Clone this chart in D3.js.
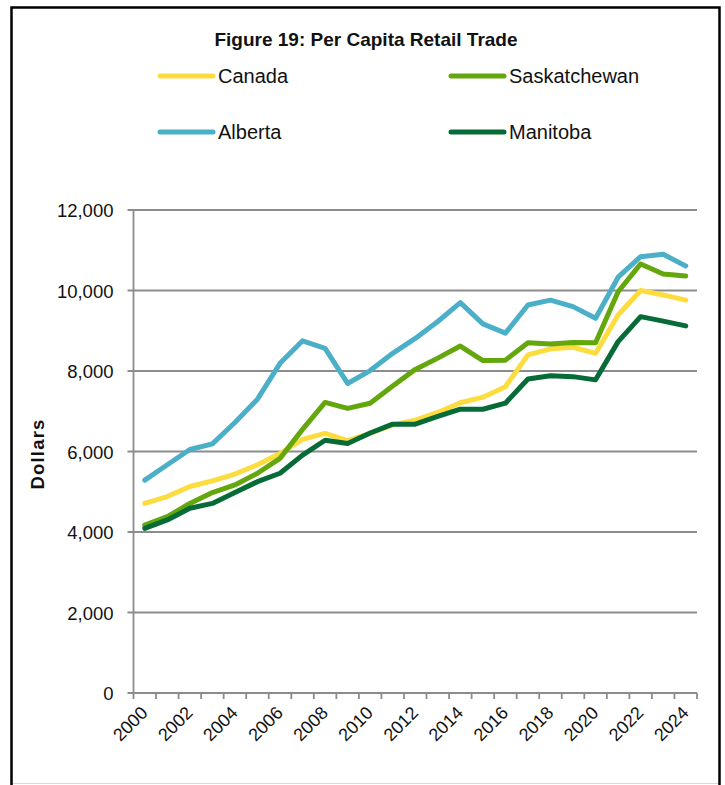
<!DOCTYPE html>
<html>
<head>
<meta charset="utf-8">
<script src="https://cdn.jsdelivr.net/npm/d3@7"></script>
<style>
  html, body { margin: 0; padding: 0; background: #fff; }
  svg { display: block; }
</style>
</head>
<body>
<svg id="chart" width="725" height="785"></svg>
<script>
const years = d3.range(2000, 2025);
const tickLabelYears = years.filter(y => y % 2 === 0);
const yTickValues = [0, 2000, 4000, 6000, 8000, 10000, 12000];

const canada = [4710, 4880, 5130, 5270, 5440, 5670, 5950, 6300, 6450, 6270, 6450, 6660, 6780, 6970, 7210, 7350, 7610, 8400, 8550, 8590, 8440, 9390, 10000, 9890, 9760];
const saskatchewan = [4170, 4380, 4710, 4980, 5170, 5460, 5830, 6550, 7220, 7070, 7200, 7630, 8040, 8320, 8620, 8260, 8270, 8700, 8670, 8710, 8700, 9970, 10660, 10410, 10360];
const alberta = [5290, 5670, 6050, 6190, 6720, 7300, 8190, 8750, 8560, 7690, 8010, 8440, 8810, 9230, 9700, 9170, 8940, 9640, 9760, 9600, 9310, 10330, 10840, 10900, 10610];
const manitoba = [4090, 4300, 4590, 4710, 4980, 5250, 5460, 5910, 6280, 6200, 6460, 6680, 6680, 6870, 7050, 7050, 7200, 7800, 7880, 7860, 7780, 8730, 9350, 9240, 9120];

const seriesNames = ["Canada", "Saskatchewan", "Alberta", "Manitoba"];
const seriesColors = ["#FDDC3F", "#63A70C", "#4BAFC8", "#076B38"];
const seriesValues = [canada, saskatchewan, alberta, manitoba];
// drawing order (back to front)
const drawOrder = [2, 0, 1, 3];

const svg = d3.select("#chart");

// Frame
svg.append("rect").attr("x", 0).attr("y", 0).attr("width", 725).attr("height", 785).attr("fill", "#fff");
svg.append("line").attr("x1", 11).attr("x2", 720).attr("y1", 783.5).attr("y2", 783.5)
  .attr("stroke", "#d9d9d9").attr("stroke-width", 1);
svg.append("path").attr("d", "M11.5,790 V7.5 H719.5 V790")
  .attr("fill", "none").attr("stroke", "#000").attr("stroke-width", 2.5);

const plotLeft = 133.5, plotRight = 697, plotTop = 210, plotBottom = 693;
const x = d3.scaleBand().domain(years).range([plotLeft, plotRight]).padding(0);
const y = d3.scaleLinear().domain([0, 12000]).range([plotBottom, plotTop]);

// Title
svg.append("text").attr("x", 366).attr("y", 46).attr("text-anchor", "middle")
  .attr("font-family", "Liberation Sans, Arial, sans-serif").attr("font-weight", "bold")
  .attr("font-size", 19).attr("fill", "#111").text("Figure 19: Per Capita Retail Trade");

// Legend
const legendPos = [[160, 76], [451, 76], [160, 132], [451, 132]];
seriesNames.forEach((name, i) => {
  const [lx, ly] = legendPos[i];
  svg.append("line").attr("x1", lx).attr("x2", lx + 53).attr("y1", ly).attr("y2", ly)
    .attr("stroke", seriesColors[i]).attr("stroke-width", 5).attr("stroke-linecap", "round");
  svg.append("text").attr("x", lx + 58).attr("y", ly + 7)
    .attr("font-family", "Liberation Sans, Arial, sans-serif").attr("font-size", 20)
    .attr("fill", "#111").text(name);
});

// Y axis labels
const yAxis = d3.axisLeft(y).tickValues(yTickValues).tickFormat(d3.format(",")).tickSize(0).tickPadding(20);
const gy = svg.append("g").attr("transform", `translate(${plotLeft},0)`).call(yAxis);
gy.select(".domain").remove();
gy.selectAll("text").attr("font-family", "Liberation Sans, Arial, sans-serif").attr("font-size", 18.5)
  .attr("fill", "#111").attr("dy", "0.36em");

// Gridlines
svg.append("g").selectAll("line").data(yTickValues).join("line")
  .attr("x1", plotLeft - 6).attr("x2", plotRight)
  .attr("y1", d => y(d)).attr("y2", d => y(d))
  .attr("stroke", "#8c8c8c").attr("stroke-width", 1.8);

// Y axis line
svg.append("line").attr("x1", plotLeft).attr("x2", plotLeft).attr("y1", plotTop).attr("y2", plotBottom)
  .attr("stroke", "#8c8c8c").attr("stroke-width", 1.8);

// X axis ticks at band boundaries
const boundaries = years.map(yr => x(yr)).concat([plotRight]);
svg.append("g").selectAll("line").data(boundaries).join("line")
  .attr("x1", d => d).attr("x2", d => d).attr("y1", plotBottom).attr("y2", plotBottom + 6)
  .attr("stroke", "#8c8c8c").attr("stroke-width", 1.8);

// X labels
const xAxis = d3.axisBottom(x).tickValues(tickLabelYears).tickSize(0).tickFormat(d3.format("d"));
const gx = svg.append("g").attr("transform", `translate(0,${plotBottom})`).call(xAxis);
gx.select(".domain").remove();
gx.selectAll("text")
  .attr("font-family", "Liberation Sans, Arial, sans-serif").attr("font-size", 18)
  .attr("fill", "#111").attr("text-anchor", "end").attr("dy", null).attr("y", null)
  .attr("transform", "translate(4,21) rotate(-45)");

// Y axis title
svg.append("text").attr("transform", "translate(44,454) rotate(-90)").attr("text-anchor", "middle")
  .attr("font-family", "Liberation Sans, Arial, sans-serif").attr("font-weight", "bold")
  .attr("font-size", 18.5).attr("letter-spacing", 1.2).attr("fill", "#111").text("Dollars");

// Lines
const line = d3.line().x((d, i) => x(years[i]) + x.bandwidth() / 2).y(d => y(d));
drawOrder.forEach(i => {
  svg.append("path").datum(seriesValues[i]).attr("d", line)
    .attr("fill", "none").attr("stroke", seriesColors[i]).attr("stroke-width", 5)
    .attr("stroke-linejoin", "round").attr("stroke-linecap", "round");
});
</script>
</body>
</html>
